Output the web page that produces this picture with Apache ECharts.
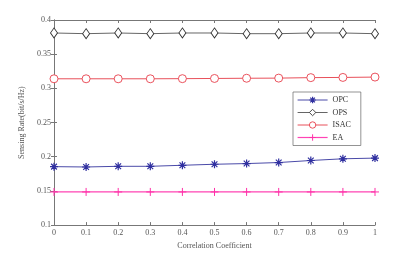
<!DOCTYPE html>
<html><head><meta charset="utf-8">
<script src="https://cdn.jsdelivr.net/npm/echarts@6/dist/echarts.min.js"></script>
<style>html,body{margin:0;padding:0;background:#fff}#c{width:415px;height:255px}</style>
</head><body><div id="c"></div>
<script>
const xValues = [0, 0.1, 0.2, 0.3, 0.4, 0.5, 0.6, 0.7, 0.8, 0.9, 1];
const opc = [0.1855, 0.185, 0.186, 0.186, 0.1875, 0.189, 0.190, 0.1915, 0.1945, 0.197, 0.198];
const ops = [0.381, 0.380, 0.381, 0.380, 0.381, 0.381, 0.380, 0.380, 0.381, 0.381, 0.380];
const isac = [0.314, 0.314, 0.314, 0.314, 0.3142, 0.3145, 0.3148, 0.315, 0.3157, 0.316, 0.3165];
const ea = [0.1485, 0.1485, 0.1485, 0.1485, 0.1485, 0.1485, 0.1485, 0.1485, 0.1485, 0.1485, 0.1485];
const seriesNames = ['OPC', 'OPS', 'ISAC', 'EA'];

const pair = arr => xValues.map((x, i) => [x, arr[i]]);
const font = 'Liberation Serif';
const axisColor = '#777';
const labelColor = '#555';
const star = 'path://M0,-5L0,5M-5,0L5,0M-3.6,-3.6L3.6,3.6M-3.6,3.6L3.6,-3.6';
const plus = 'path://M0,-5L0,5M-5,0L5,0';

const styles = [
  {symbol: star, size: 8, line: '#4a4aa8', lw: 1, fill: 'rgba(0,0,0,0)', border: '#3030a0', bw: 1.2},
  {symbol: 'diamond', size: [7, 10], line: '#666', lw: 1, fill: '#fff', border: '#333', bw: 0.9},
  {symbol: 'circle', size: 8, line: '#e8505a', lw: 1, fill: '#fff', border: '#e8404c', bw: 0.9},
  {symbol: plus, size: 8, line: '#ff44b4', lw: 1.2, fill: 'rgba(0,0,0,0)', border: '#ff30a8', bw: 1}
];
const dataSets = [opc, ops, isac, ea];

const chart = echarts.init(document.getElementById('c'), null, {renderer: 'canvas'});
const baseX = {type: 'value', min: 0, max: 1, interval: 0.1,
  axisLine: {show: true, lineStyle: {color: axisColor, width: 1}},
  axisTick: {show: true, inside: true, length: 3, lineStyle: {color: axisColor}},
  splitLine: {show: false}};
const baseY = {type: 'value', min: 0.1, max: 0.4, interval: 0.05,
  axisLine: {show: true, lineStyle: {color: axisColor, width: 1}},
  axisTick: {show: true, inside: true, length: 3, lineStyle: {color: axisColor}},
  splitLine: {show: false}};
chart.setOption({
  animation: false,
  grid: {left: 54, right: 40, top: 20, bottom: 28},
  xAxis: [
    Object.assign({}, baseX, {position: 'bottom', name: 'Correlation Coefficient', nameLocation: 'middle', nameGap: 15,
      nameTextStyle: {fontFamily: font, fontSize: 8, color: labelColor},
      axisLabel: {fontFamily: font, fontSize: 8, color: labelColor, margin: 4,
        formatter: v => String(Math.round(v * 10) / 10)}}),
    Object.assign({}, baseX, {position: 'top', axisLabel: {show: false}})
  ],
  yAxis: [
    Object.assign({}, baseY, {position: 'left', name: 'Sensing Rate(bit/s/Hz)', nameLocation: 'middle', nameGap: 21,
      nameTextStyle: {fontFamily: font, fontSize: 8, color: labelColor},
      axisLabel: {fontFamily: font, fontSize: 8, color: labelColor, margin: 3,
        formatter: v => String(Math.round(v * 100) / 100)}}),
    Object.assign({}, baseY, {position: 'right', axisLabel: {show: false}})
  ],
  legend: {
    orient: 'vertical', left: 293, top: 92, itemWidth: 30, itemHeight: 8, itemGap: 4.5,
    padding: [4, 10, 4, 4], borderColor: '#666', borderWidth: 0.7, backgroundColor: '#fff',
    textStyle: {fontFamily: font, fontSize: 8, color: '#333'},
    data: seriesNames.map((n, i) => ({
      name: n,
      itemStyle: {color: styles[i].fill, borderColor: styles[i].border, borderWidth: styles[i].bw},
      lineStyle: {color: styles[i].line, width: styles[i].lw}
    }))
  },
  series: seriesNames.map((n, i) => ({
    name: n, type: 'line', data: pair(dataSets[i]), symbol: styles[i].symbol, symbolSize: styles[i].size,
    lineStyle: {color: styles[i].line, width: styles[i].lw},
    itemStyle: {color: styles[i].fill, borderColor: styles[i].border, borderWidth: styles[i].bw}
  }))
});
</script></body></html>
